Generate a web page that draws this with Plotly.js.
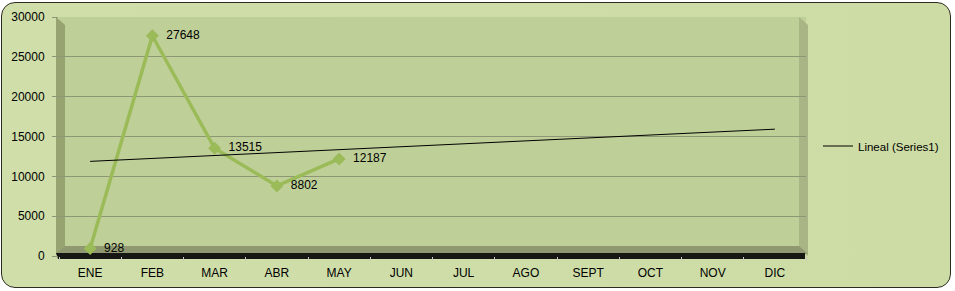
<!DOCTYPE html>
<html>
<head>
<meta charset="utf-8">
<script src="https://cdn.plot.ly/plotly-3.0.1.min.js"></script>
<style>
  html, body { margin: 0; padding: 0; background: #ffffff; }
  #frame { position: absolute; left: 1px; top: 2px; width: 948px; height: 284px;
           border: 1.5px solid #2b2b22; border-radius: 14px;
           background: linear-gradient(90deg, #d0dfaa 0%, #cddca5 100%); }
  #chart { position: absolute; left: 0; top: 0; width: 955px; height: 291px; }
</style>
</head>
<body>
<div id="frame"></div>
<div id="chart"></div>
<script>
// ---- data ----
const months = ['ENE','FEB','MAR','ABR','MAY','JUN','JUL','AGO','SEPT','OCT','NOV','DIC'];
const seriesMonths = ['ENE','FEB','MAR','ABR','MAY'];
const seriesValues = [928, 27648, 13515, 8802, 12187];
const seriesLabels = ['928','27648','13515','8802','12187'];
const trendMonths = ['ENE','DIC'];
const trendValues = [11880, 15920];
const yTicks = [0, 5000, 10000, 15000, 20000, 25000, 30000];

// ---- geometry helpers (pixel -> paper) ----
const L = 59, R = 807, T = 17, B = 256, W = 955, H = 291;
const px = x => (x - L) / (R - L);
const py = y => (B - y) / (B - T);
function poly(pts) {
  return 'M ' + pts.map(p => px(p[0]).toFixed(5) + ' ' + py(p[1]).toFixed(5)).join(' L ') + ' Z';
}

const font = {family: 'Liberation Sans, Arial, sans-serif', size: 12, color: '#000000'};

const traces = [
  {
    type: 'scatter', mode: 'lines+markers+text',
    x: seriesMonths, y: seriesValues, text: seriesLabels,
    texttemplate: '\u00a0\u00a0%{text}',
    textposition: 'middle right', textfont: font,
    line: {color: '#9bbb59', width: 3.5},
    marker: {symbol: 'diamond', size: 10, color: '#9bbb59'},
    name: 'Series1', showlegend: false, cliponaxis: false
  },
  {
    type: 'scatter', mode: 'lines',
    x: trendMonths, y: trendValues,
    line: {color: '#000000', width: 1},
    name: 'Lineal (Series1)', showlegend: true
  }
];

const shapes = [
  // right wall (under gridlines)
  {type: 'path', xref: 'paper', yref: 'paper', layer: 'below', line: {width: 0},
   fillcolor: '#a9b585', path: poly([[800,17],[809,25],[809,256],[800,248]])},
  // left wall
  {type: 'path', xref: 'paper', yref: 'paper', layer: 'between', line: {width: 0},
   fillcolor: '#97a371', path: poly([[56,17],[65,25],[65,247],[56,255]])},
  // floor
  {type: 'path', xref: 'paper', yref: 'paper', layer: 'between', line: {width: 0},
   fillcolor: '#8f9870', path: poly([[56,254],[65,246],[800,246],[809,254]])},
  // floor front shadow
  {type: 'path', xref: 'paper', yref: 'paper', layer: 'between', line: {width: 0},
   fillcolor: '#161614', path: poly([[56,253],[806,253],[806,259],[58,259]])}
];

const layout = {
  width: W, height: H,
  margin: {l: L, r: W - R, t: T, b: H - B},
  paper_bgcolor: 'rgba(0,0,0,0)',
  plot_bgcolor: '#bfcf98',
  font: font,
  showlegend: true,
  legend: {x: px(818), xanchor: 'left', y: py(146), yanchor: 'middle',
           bgcolor: 'rgba(0,0,0,0)', font: {family: font.family, size: 11.5, color: '#000'}},
  xaxis: {
    type: 'category', categoryorder: 'array', categoryarray: months,
    range: [-0.5, 11.5], showgrid: false, zeroline: false, showline: false,
    ticks: 'outside', ticklen: 4, tickcolor: '#c8c8c0', tickson: 'boundaries',
    ticklabelstandoff: 8, tickfont: font, fixedrange: true
  },
  yaxis: {
    range: [0, 30000], tickvals: yTicks, ticktext: yTicks.map(String),
    showgrid: true, gridcolor: '#8d9776', gridwidth: 1, zeroline: false, showline: false,
    ticks: 'outside', ticklen: 6, tickcolor: '#8d9776',
    ticklabelstandoff: 5, tickfont: font, fixedrange: true
  },
  shapes: shapes
};

Plotly.newPlot('chart', traces, layout, {displayModeBar: false, staticPlot: true});
</script>
</body>
</html>
